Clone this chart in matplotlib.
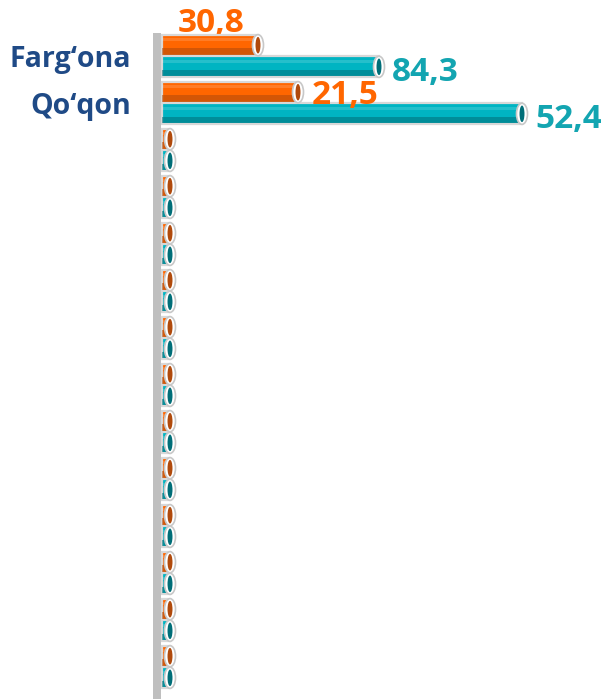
import matplotlib
matplotlib.use("Agg")
import matplotlib.pyplot as plt
from matplotlib.patches import Ellipse, Rectangle
import numpy as np

categories = ["Farg\u2018ona", "Qo\u2018qon"] + [""] * 12
orange_vals = [88, 128] + [0] * 12
teal_vals = [209, 352] + [0] * 12
orange_labels = ["30,8", "21,5"]
teal_labels = ["84,3", "52,4"]

ORANGE = "#FF6600"
ORANGE_D = "#B04A0C"
TEAL = "#00B4C2"
TEAL_D = "#006E78"
LABEL_BLUE = "#1F4A86"
TEAL_TXT = "#13A5B1"

W, H = 601, 699
fig = plt.figure(figsize=(W / 100, H / 100), dpi=100)
ax_left = 153 / W
ax = fig.add_axes([ax_left, 0, 1 - ax_left, 1 - 33 / H])
ax.set_xlim(-9, 439)
n = len(categories)
ax.set_ylim((699 - 56) / 47, -(56 - 33) / 47)
ax.axis("off")

# wall
ax.add_patch(Rectangle((-9, -0.6), 8, 20, facecolor="#BFBFBF", edgecolor="none", zorder=1))

bh = 0.44
off = 0.23
stub = 8
cap_w = 11
y = np.arange(n)


def cylinder(yc, v, c, cd):
    L = v + stub
    ax.barh(yc, L, height=bh, left=0, color=c, edgecolor="#D8D8D8", linewidth=1.6, zorder=3)
    ax.barh(yc + bh * 0.3, L, height=bh * 0.32, left=0, color=cd, alpha=0.55, edgecolor="none", zorder=3.1)
    ax.barh(yc - bh * 0.27, L, height=bh * 0.14, left=0, color="white", alpha=0.15, edgecolor="none", zorder=3.1)
    ax.add_patch(Ellipse((L, yc), cap_w, bh * 1.02, facecolor="white", edgecolor="#C8C8C8", linewidth=1.2, zorder=3.3))
    ax.add_patch(Ellipse((L, yc), cap_w * 0.45, bh * 0.8, facecolor=cd, edgecolor="none", zorder=3.4))


for i in range(n):
    cylinder(y[i] - off, orange_vals[i], ORANGE, ORANGE_D)
    cylinder(y[i] + off, teal_vals[i], TEAL, TEAL_D)

for i, lab in enumerate(categories):
    if lab:
        ax.text(-31, y[i] + 0.07, lab, ha="right", va="center", fontsize=20.5,
                fontweight="bold", color=LABEL_BLUE, family="Open Sans", clip_on=False)

# value labels
FS = 24
ax.text(orange_vals[0] / 2 + 5, y[0] - off - 0.47, orange_labels[0], ha="center", va="center",
        fontsize=FS, fontweight="bold", color=ORANGE, family="Open Sans", zorder=2, clip_on=False)
ax.text(orange_vals[1] + stub + 14, y[1] - off + 0.06, orange_labels[1], ha="left", va="center",
        fontsize=FS, fontweight="bold", color=ORANGE, family="Open Sans", zorder=5)
for i in range(2):
    ax.text(teal_vals[i] + stub + 13, y[i] + off + 0.12, teal_labels[i], ha="left", va="center",
            fontsize=FS, fontweight="bold", color=TEAL_TXT, family="Open Sans", zorder=5, clip_on=False)

fig.savefig("out.png", dpi=100)
